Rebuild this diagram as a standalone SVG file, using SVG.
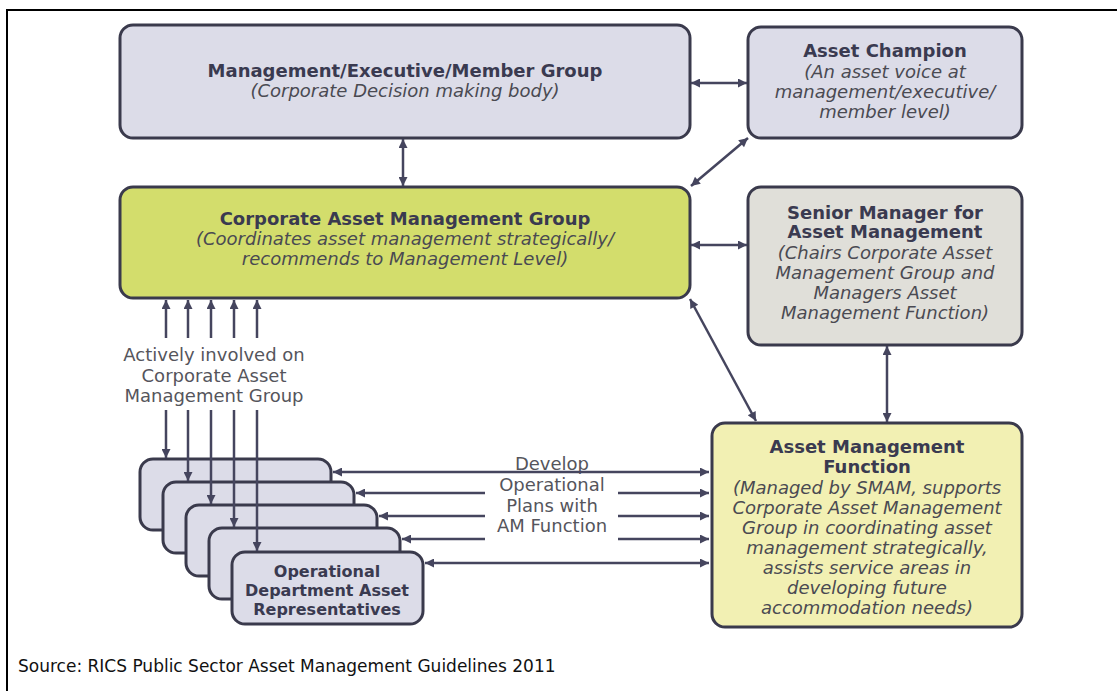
<svg xmlns="http://www.w3.org/2000/svg" width="1117" height="691" viewBox="0 0 1117 691">
<defs>
<marker id="ah" viewBox="0 0 10 10" refX="10" refY="5" markerWidth="11" markerHeight="9" markerUnits="userSpaceOnUse" orient="auto-start-reverse">
<path d="M0,0 L10,5 L0,10 z" fill="#45455e"/>
</marker>
<style>
.box{stroke:#3a3a4c;stroke-width:3}
.lav{fill:#dcdce8}
.grn{fill:#d3dd6c}
.bei{fill:#e0dfd9}
.yel{fill:#f2f0b3}
text{font-family:"DejaVu Sans",Verdana,sans-serif;font-size:18px;text-anchor:middle}
.t{font-weight:bold;fill:#3a3a50}
.s{font-style:italic;fill:#4a4a52}
.p{fill:#55555c}
.o{font-weight:bold;fill:#3a3a50;font-size:16px}
.c{stroke:#45455e;stroke-width:2.5;fill:none}
.ce{stroke:#45455e;stroke-width:2.5;fill:none;marker-end:url(#ah)}
.cb{stroke:#45455e;stroke-width:2.5;fill:none;marker-start:url(#ah);marker-end:url(#ah)}
</style>
</defs>
<rect width="1117" height="691" fill="#ffffff"/>
<path d="M7,700 V10 H1125" fill="none" stroke="#000" stroke-width="2"/>

<g id="mgmt">
<rect class="box lav" x="120" y="25" width="570" height="113" rx="13"/>
<text class="t" x="405" y="77">Management/Executive/Member Group</text>
<text class="s" x="405" y="97">(Corporate Decision making body)</text>
</g>
<g id="champion">
<rect class="box lav" x="748" y="27" width="274" height="111" rx="13"/>
<text class="t" x="885" y="57">Asset Champion</text>
<text class="s" x="885" y="78">(An asset voice at</text>
<text class="s" x="885" y="98">management/executive/</text>
<text class="s" x="885" y="118">member level)</text>
</g>
<g id="camg">
<rect class="box grn" x="120" y="187" width="570" height="111" rx="13"/>
<text class="t" x="405" y="225">Corporate Asset Management Group</text>
<text class="s" x="405" y="245">(Coordinates asset management strategically/</text>
<text class="s" x="405" y="265">recommends to Management Level)</text>
</g>
<g id="smam">
<rect class="box bei" x="748" y="187" width="274" height="158" rx="13"/>
<text class="t" x="885" y="219">Senior Manager for</text>
<text class="t" x="885" y="238">Asset Management</text>
<text class="s" x="885" y="259">(Chairs Corporate Asset</text>
<text class="s" x="885" y="279">Management Group and</text>
<text class="s" x="885" y="299">Managers Asset</text>
<text class="s" x="885" y="319">Management Function)</text>
</g>
<g id="amf">
<rect class="box yel" x="712" y="423" width="310" height="204" rx="13"/>
<text class="t" x="867" y="453">Asset Management</text>
<text class="t" x="867" y="473">Function</text>
<text class="s" x="867" y="494">(Managed by SMAM, supports</text>
<text class="s" x="867" y="514">Corporate Asset Management</text>
<text class="s" x="867" y="534">Group in coordinating asset</text>
<text class="s" x="867" y="554">management strategically,</text>
<text class="s" x="867" y="574">assists service areas in</text>
<text class="s" x="867" y="594">developing future</text>
<text class="s" x="867" y="614">accommodation needs)</text>
</g>
<g id="oper">
<rect class="box lav" x="140" y="459" width="191" height="71" rx="13"/>
<rect class="box lav" x="163" y="482" width="191" height="71" rx="13"/>
<rect class="box lav" x="186" y="505" width="191" height="71" rx="13"/>
<rect class="box lav" x="209" y="528" width="191" height="71" rx="13"/>
<rect class="box lav" x="232" y="552" width="191" height="72" rx="13"/>
<text class="o" x="327" y="577">Operational</text>
<text class="o" x="327" y="596">Department Asset</text>
<text class="o" x="327" y="615">Representatives</text>
</g>
<g id="labels">
<text class="p" x="214" y="361">Actively involved on</text>
<text class="p" x="214" y="382">Corporate Asset</text>
<text class="p" x="214" y="402">Management Group</text>
<text class="p" x="552" y="470">Develop</text>
<text class="p" x="552" y="491">Operational</text>
<text class="p" x="552" y="512">Plans with</text>
<text class="p" x="552" y="532">AM Function</text>
<text x="18" y="672" style="text-anchor:start;font-size:17px;fill:#111">Source: RICS Public Sector Asset Management Guidelines 2011</text>
</g>
<g id="connectors">
<line class="cb" x1="403" y1="139" x2="403" y2="186"/>
<line class="cb" x1="691" y1="83" x2="747" y2="83"/>
<line class="cb" x1="691" y1="245" x2="747" y2="245"/>
<line class="cb" x1="691" y1="186" x2="748" y2="138"/>
<line class="cb" x1="690" y1="299" x2="756" y2="421"/>
<line class="cb" x1="887" y1="346" x2="887" y2="422"/>
<line class="ce" x1="166" y1="338" x2="166" y2="300"/>
<line class="ce" x1="188" y1="338" x2="188" y2="300"/>
<line class="ce" x1="211" y1="338" x2="211" y2="300"/>
<line class="ce" x1="234" y1="338" x2="234" y2="300"/>
<line class="ce" x1="257" y1="338" x2="257" y2="300"/>
<line class="ce" x1="166" y1="410" x2="166" y2="458"/>
<line class="ce" x1="188" y1="410" x2="188" y2="481"/>
<line class="ce" x1="211" y1="410" x2="211" y2="504"/>
<line class="ce" x1="234" y1="410" x2="234" y2="527"/>
<line class="ce" x1="257" y1="410" x2="257" y2="551"/>
<line class="cb" x1="333" y1="472" x2="709" y2="472"/>
<line class="ce" x1="485" y1="493" x2="356" y2="493"/>
<line class="ce" x1="618" y1="493" x2="709" y2="493"/>
<line class="ce" x1="485" y1="516" x2="379" y2="516"/>
<line class="ce" x1="618" y1="516" x2="709" y2="516"/>
<line class="ce" x1="485" y1="539" x2="402" y2="539"/>
<line class="ce" x1="618" y1="539" x2="709" y2="539"/>
<line class="cb" x1="425" y1="563" x2="709" y2="563"/>
</g>
</svg>
